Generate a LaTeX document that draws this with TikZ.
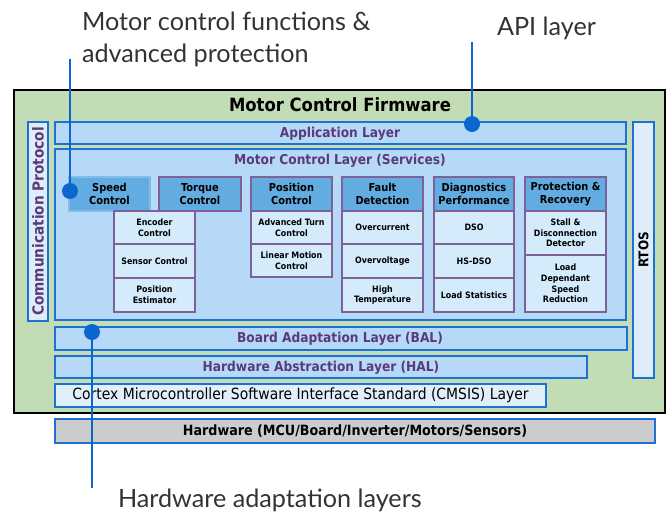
\documentclass[tikz,border=0pt]{standalone}
\usepackage{fontspec}
\setmainfont{DejaVu Sans}
\newfontfamily\boxfont{DejaVu Sans Condensed}
\newfontfamily\labelfont{Lato}
\definecolor{firmgreen}{HTML}{C2DDB6}
\definecolor{layerblue}{HTML}{B6D9F8}
\definecolor{edgeblue}{HTML}{1C70D6}
\definecolor{sideblue}{HTML}{DEEDF9}
\definecolor{headblue}{HTML}{62ACE1}
\definecolor{subblue}{HTML}{D3EBFB}
\definecolor{boxpurple}{HTML}{7D6299}
\definecolor{textpurple}{HTML}{5A3A78}
\definecolor{cmsisblue}{HTML}{E1EFFA}
\definecolor{hwgrey}{HTML}{CCCCCC}
\definecolor{leadblue}{HTML}{0B66CF}
\definecolor{labelgrey}{HTML}{333333}
\begin{document}
\begin{tikzpicture}[x=0.75pt,y=-0.75pt,
  sz/.style 2 args={minimum width={#1*0.75pt}, minimum height={#2*0.75pt}},
  every node/.style={inner sep=0pt, outer sep=0pt},
  firm/.style={draw=black, line width=1.5pt, fill=firmgreen, anchor=north west},
  layer/.style={draw=edgeblue, line width=1.5pt, fill=layerblue, anchor=north west},
  side/.style={draw=edgeblue, line width=1.5pt, fill=sideblue, anchor=north west},
  layertext/.style={text=textpurple, font=\boxfont\bfseries\fontsize{10.2}{12}\selectfont},
  head/.style={draw=boxpurple, line width=0.8pt, fill=headblue, anchor=north west, align=center,
    font=\boxfont\bfseries\fontsize{8.2}{9.6}\selectfont},
  sub/.style={draw=boxpurple, line width=0.8pt, fill=subblue, anchor=north west, align=center,
    font=\boxfont\bfseries\fontsize{6.6}{8}\selectfont},
  lead/.style={draw=leadblue, line width=1.6pt},
  leaddot/.style={circle, fill=leadblue, minimum size=12pt},
  callout/.style={text=labelgrey, anchor=base west, font=\labelfont\fontsize{18.9}{22}\selectfont}
]
\useasboundingbox (0,0) rectangle (671,514);

% firmware frame
\node[firm, sz={651}{323}] (fw) at (14,90) {};
\node[font=\boxfont\bfseries\fontsize{13.7}{16}\selectfont] (fwtitle) at (340,105) {Motor Control Firmware};

% side columns
\node[side, sz={20}{199}] (comm) at (28,122) {};
\node[rotate=90, text=textpurple, font=\boxfont\bfseries\fontsize{11.4}{13}\selectfont] (commtxt) at (comm.center) {Communication Protocol};
\node[side, sz={21}{256}] (rtos) at (633,122) {};
\node[rotate=90, font=\boxfont\bfseries\fontsize{10}{12}\selectfont] (rtostxt) at (rtos.center) {RTOS};

% application layer
\node[layer, sz={571}{22}] (app) at (55,122) {};
\node[layertext] (apptxt) at (340,134) {Application Layer};

% motor control layer
\node[layer, sz={571}{171}] (mcl) at (55,149) {};
\node[layertext] (mcltxt) at (340,161) {Motor Control Layer (Services)};

% service headers
\node[head, sz={81}{34}, draw=headblue!80!white] (speed) at (69,177) {Speed\\Control};
\node[head, sz={82}{34}] (torque) at (159,177) {Torque\\Control};
\node[head, sz={81}{34}] (position) at (251,177) {Position\\Control};
\node[head, sz={81}{34}] (fault) at (342,177) {Fault\\Detection};
\node[head, sz={80}{34}] (diag) at (434,177) {Diagnostics\\Performance};
\node[head, sz={81}{34}] (prot) at (525,177) {Protection \&\\Recovery};

% service details
\node[sub, sz={81}{33}] (enc) at (114,211) {Encoder\\Control};
\node[sub, sz={81}{34}] (sens) at (114,244) {Sensor Control};
\node[sub, sz={81}{34}] (posest) at (114,278) {Position\\Estimator};

\node[sub, sz={81}{33}] (advturn) at (251,211) {Advanced Turn\\Control};
\node[sub, sz={81}{33}] (linmot) at (251,244) {Linear Motion\\Control};

\node[sub, sz={81}{33}] (overcur) at (342,211) {Overcurrent};
\node[sub, sz={81}{34}] (overvolt) at (342,244) {Overvoltage};
\node[sub, sz={81}{34}] (hightemp) at (342,278) {High\\Temperature};

\node[sub, sz={80}{33}] (dso) at (434,211) {DSO};
\node[sub, sz={80}{34}] (hsdso) at (434,244) {HS-DSO};
\node[sub, sz={80}{34}] (loadstat) at (434,278) {Load Statistics};

\node[sub, sz={81}{44}] (stall) at (525,211) {Stall \&\\Disconnection\\Detector};
\node[sub, sz={81}{57}] (loaddep) at (525,255) {Load\\Dependant\\Speed\\Reduction};

% lower layers
\node[layer, sz={572}{23}] (bal) at (55,327) {};
\node[layertext] (baltxt) at (340,339) {Board Adaptation Layer (BAL)};
\node[layer, sz={532}{22}] (hal) at (55,356) {};
\node[layertext] (haltxt) at (321,368) {Hardware Abstraction Layer (HAL)};
\node[layer, fill=cmsisblue, sz={491}{23}] (cmsis) at (55,384) {};
\node[font=\boxfont\fontsize{11.6}{13}\selectfont] (cmsistxt) at (cmsis.center) {Cortex Microcontroller Software Interface Standard (CMSIS) Layer};
\node[layer, fill=hwgrey, sz={600}{24}] (hw) at (55,419) {};
\node[font=\boxfont\bfseries\fontsize{10.6}{12}\selectfont] (hwtxt) at (hw.center) {Hardware (MCU/Board/Inverter/Motors/Sensors)};

% callouts
\node[leaddot] (mdot) at (70,191) {};
\coordinate (mtop) at (70,59);
\draw[lead] (mtop) -- (mdot.center);
\node[callout] (mlab1) at (82,30) {Motor control functions \&};
\node[callout] (mlab2) at (82,62) {advanced protection};

\node[leaddot] (adot) at (472,124) {};
\coordinate (atop) at (472,42);
\draw[lead] (atop) -- (adot.center);
\node[callout] (alab) at (497,35) {API layer};

\node[leaddot] (hdot) at (92,332) {};
\coordinate (hbot) at (92,488);
\draw[lead] (hdot.center) -- (hbot);
\node[callout] (hlab) at (118,507) {Hardware adaptation layers};
\end{tikzpicture}
\end{document}
